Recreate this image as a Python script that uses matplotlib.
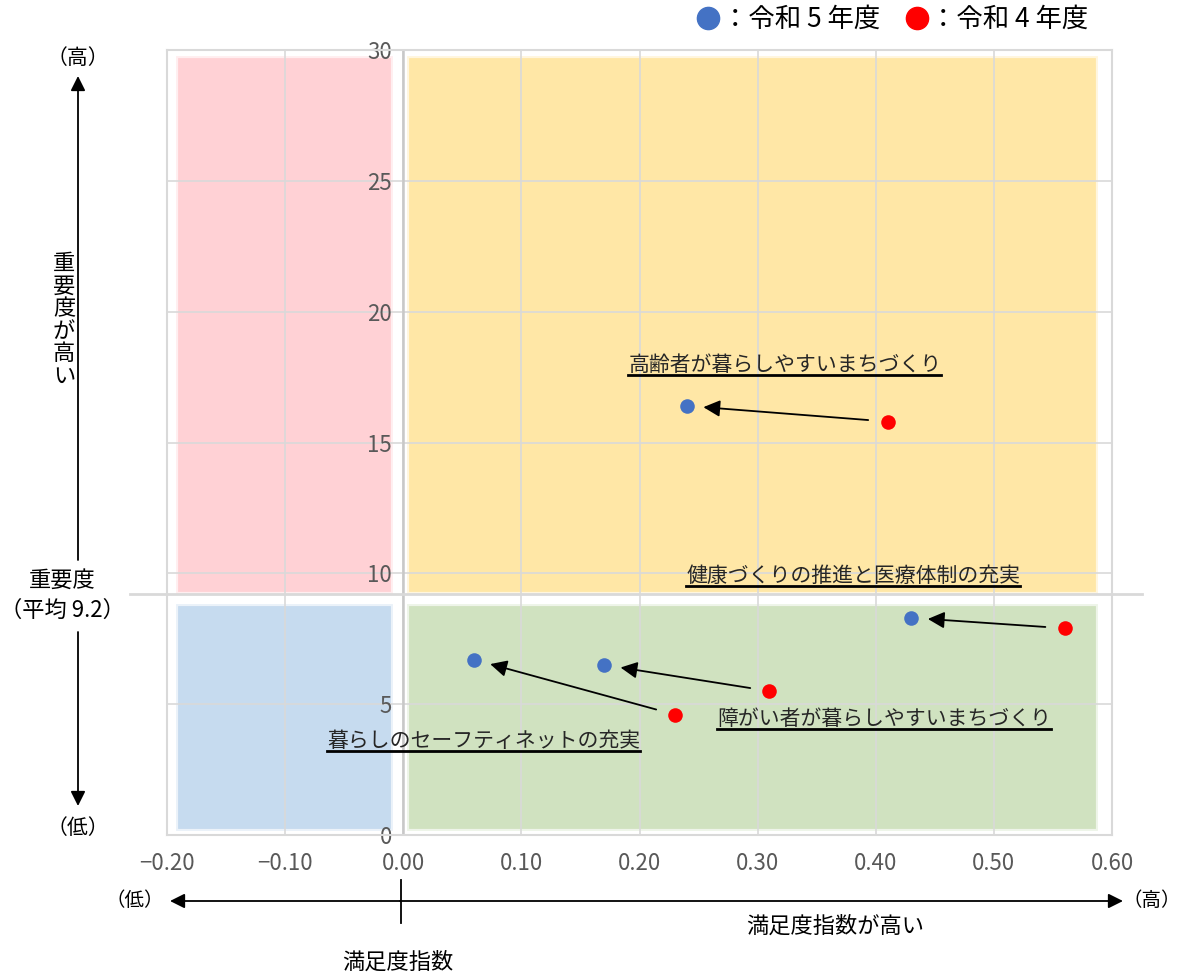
import matplotlib
matplotlib.use("Agg")
import matplotlib.pyplot as plt
from matplotlib.lines import Line2D
from matplotlib.patches import Rectangle, FancyArrowPatch

plt.rcParams['font.family'] = ['Noto Sans CJK JP', 'DejaVu Sans']

# データ（満足度指数, 重要度）
items = ["高齢者が暮らしやすいまちづくり",
         "健康づくりの推進と医療体制の充実",
         "障がい者が暮らしやすいまちづくり",
         "暮らしのセーフティネットの充実"]
sat_r5 = [0.24, 0.43, 0.17, 0.06]
imp_r5 = [16.4, 8.3, 6.5, 6.7]
sat_r4 = [0.41, 0.56, 0.31, 0.23]
imp_r4 = [15.8, 7.9, 5.5, 4.6]
label_x = [0.323, 0.381, 0.407, 0.068]
label_y = [17.95, 9.9, 4.45, 3.6]

imp_mean = 9.2
x_ticks = [-0.2, -0.1, 0.0, 0.1, 0.2, 0.3, 0.4, 0.5, 0.6]
y_ticks = [0, 5, 10, 15, 20, 25, 30]

blue = "#4472C4"
red = "#FF0000"
grid_c = "#D9D9D9"
tick_c = "#595959"

fig = plt.figure(figsize=(11.83, 9.75), dpi=100)
ax = fig.add_axes([167/1183, 1-835/975, 945/1183, 785/975])
ax.set_xlim(-0.2, 0.6)
ax.set_ylim(0, 30)

# 象限の背景
quads = [((-0.19, imp_mean + 0.15), (-0.012, 29.65), "#FFD1D5"),
         ((0.006, imp_mean + 0.15), (0.585, 29.65), "#FFE7A6"),
         ((-0.19, 0.32), (-0.012, imp_mean - 0.5), "#C6DBEF"),
         ((0.006, 0.32), (0.585, imp_mean - 0.5), "#D0E2C0")]
for (x0, y0), (x1, y1), c in quads:
    ax.add_patch(Rectangle((x0, y0), x1 - x0, y1 - y0, facecolor=c,
                           edgecolor=c, lw=2, zorder=0.2))
    ax.add_patch(Rectangle((x0, y0), x1 - x0, y1 - y0, facecolor="none",
                           edgecolor=c, lw=5, alpha=0.35, zorder=0.2))

ax.set_axisbelow(True)
ax.grid(color=grid_c, lw=1.2)
for s in ax.spines.values():
    s.set_color(grid_c)
    s.set_linewidth(1.5)

ax.set_xticks(x_ticks)
ax.set_xticklabels(["−%.2f" % abs(v) if v < 0 else "%.2f" % v for v in x_ticks])
ax.set_yticks(y_ticks)
ax.set_yticklabels([str(v) for v in y_ticks])
ax.tick_params(axis='x', length=0, pad=12, labelsize=16, labelcolor=tick_c)
ax.tick_params(axis='y', length=0, pad=-162, labelsize=16, labelcolor=tick_c)
for t in ax.get_yticklabels():
    t.set_zorder(3)

# x=0 の縦線と重要度平均線
ax.axvline(0, color="#C8C8C8", lw=1.8, zorder=0.6)
ax.plot([-0.231, 0.625], [imp_mean, imp_mean], color=grid_c, lw=2,
        clip_on=False, zorder=0.6)

# 点と矢印
for i in range(len(items)):
    ax.annotate("", xy=(sat_r5[i], imp_r5[i]), xytext=(sat_r4[i], imp_r4[i]),
                arrowprops=dict(arrowstyle="-|>", color="black", lw=1.3,
                                mutation_scale=25, shrinkA=14, shrinkB=12),
                zorder=4)
ax.scatter(sat_r5, imp_r5, s=110, color=blue, zorder=5, linewidths=0)
ax.scatter(sat_r4, imp_r4, s=110, color=red, zorder=5, linewidths=0)

labels = []
for i, name in enumerate(items):
    t = ax.text(label_x[i], label_y[i], name, fontsize=15, color="#262626",
                ha="center", va="center", zorder=6)
    labels.append(t)

# 凡例
handles = [Line2D([], [], marker='o', ls='', color=blue, markersize=16),
           Line2D([], [], marker='o', ls='', color=red, markersize=16)]
fig.legend(handles, ["：令和 5 年度", "：令和 4 年度"], loc="upper right",
           bbox_to_anchor=(0.94, 1.018), ncol=2, frameon=False, fontsize=19,
           handlelength=0.8, handletextpad=0.1, columnspacing=1.0)

# 縦軸の説明
W, H = 1183, 975
def fx(px):
    return px / W
def fy(py):
    return 1 - py / H

arr = dict(arrowstyle="-|>", color="black", lw=1.3, mutation_scale=22,
           shrinkA=0, shrinkB=0)
fig.text(fx(78), fy(58), "（高）", fontsize=15, ha="center", va="center")
fig.add_artist(FancyArrowPatch((fx(78), fy(560)), (fx(78), fy(76)),
                               transform=fig.transFigure, **arr))
fig.text(fx(64), fy(320), "\n".join("重要度が高い"), fontsize=16, ha="center",
         va="center", linespacing=0.98,
         bbox=dict(facecolor="white", edgecolor="none", pad=1))
fig.text(fx(62), fy(580), "重要度", fontsize=16, ha="center", va="center")
fig.text(fx(62), fy(610), "（平均 9.2）", fontsize=16, ha="center", va="center")
fig.add_artist(FancyArrowPatch((fx(78), fy(632)), (fx(78), fy(806)),
                               transform=fig.transFigure, **arr))
fig.text(fx(78), fy(828), "（低）", fontsize=15, ha="center", va="center")

# 横軸の説明
fig.text(fx(135), fy(901), "（低）", fontsize=14, ha="center", va="center")
fig.add_artist(FancyArrowPatch((fx(400), fy(901)), (fx(170), fy(901)),
                               transform=fig.transFigure, **arr))
fig.add_artist(FancyArrowPatch((fx(400), fy(901)), (fx(1123), fy(901)),
                               transform=fig.transFigure, **arr))
fig.add_artist(Line2D([fx(401), fx(401)], [fy(880), fy(923)], color="black", lw=1.3))
fig.text(fx(1152), fy(901), "（高）", fontsize=14, ha="center", va="center")
fig.text(fx(835), fy(926), "満足度指数が高い", fontsize=16, ha="center", va="center")
fig.text(fx(398), fy(962), "満足度指数", fontsize=16, ha="center", va="center")

# 下線
fig.canvas.draw()
r = fig.canvas.get_renderer()
for t in labels:
    bb = t.get_window_extent(r)
    yb = bb.y0 + 1
    fig.add_artist(Line2D([bb.x0 / W, bb.x1 / W], [yb / H, yb / H],
                          color="black", lw=2, zorder=7))

fig.savefig("out.png", dpi=100)
